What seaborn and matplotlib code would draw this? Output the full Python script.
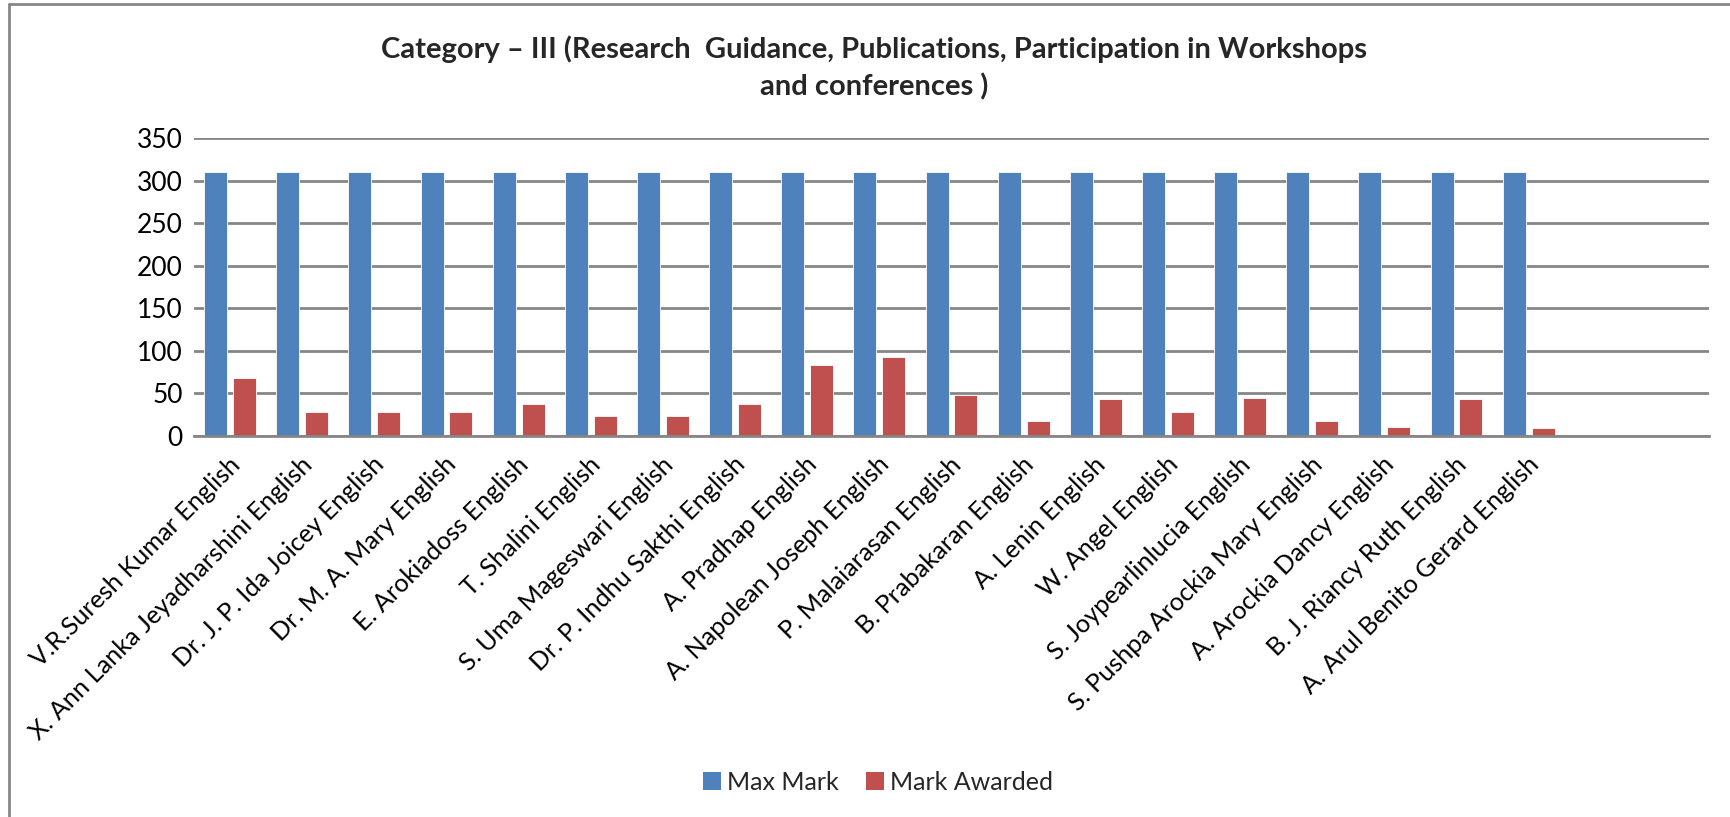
import numpy as np
import pandas as pd
import matplotlib
matplotlib.use("Agg")
import matplotlib.pyplot as plt
import matplotlib.transforms as mtransforms
import seaborn as sns
from matplotlib.lines import Line2D
from matplotlib.patches import Patch

names = ["V.R.Suresh Kumar English", "X. Ann Lanka Jeyadharshini English",
         "Dr. J. P. Ida Joicey English", "Dr. M. A. Mary English",
         "E. Arokiadoss English", "T. Shalini English", "S. Uma Mageswari English",
         "Dr. P. Indhu Sakthi English", "A. Pradhap English",
         "A. Napolean Joseph English", "P. Malaiarasan English",
         "B. Prabakaran English", "A. Lenin English", "W. Angel English",
         "S. Joypearlinlucia English", "S. Pushpa Arockia Mary English",
         "A. Arockia Dancy English", "B. J. Riancy Ruth English",
         "A. Arul Benito Gerard English"]
# two empty category slots at the end of the axis
blank_slots = [" ", "  "]
max_mark = [310] * 19
mark_awarded = [68, 28, 28, 28, 38, 23, 23, 38, 83, 93, 48, 18, 43, 28, 45, 18, 10, 43, 9]
series = ["Max Mark", "Mark Awarded"]
colors = ["#4F81BD", "#C0504D"]

df = pd.DataFrame({
    "name": names * 2,
    "value": max_mark + mark_awarded,
    "series": [series[0]] * 19 + [series[1]] * 19,
})

sns.set_style("white")
plt.rcParams["font.family"] = ["Lato", "DejaVu Sans"]

fig = plt.figure(figsize=(17.3, 8.17), dpi=100)
ax = fig.add_axes([194 / 1730, 1 - 436 / 817, (1709 - 194) / 1730, (436 - 138) / 817])

sns.barplot(data=df, x="name", y="value", hue="series", order=names + blank_slots,
            hue_order=series, palette=colors, width=0.8, gap=0.2,
            edgecolor="white", linewidth=0.6, saturation=1, ax=ax, legend=False)

ax.set_ylim(0, 350)
ax.set_yticks(np.arange(0, 351, 50))
ax.set_xlim(-0.5, len(names) + len(blank_slots) - 0.5)
ax.yaxis.grid(True, color="#868686", linewidth=2)
ax.set_axisbelow(True)
for s in ["top", "right", "left"]:
    ax.spines[s].set_visible(False)
ax.spines["bottom"].set_color("#868686")
ax.spines["bottom"].set_linewidth(2)
ax.set_xlabel("")
ax.set_ylabel("")
ax.tick_params(axis="both", length=0, colors="black")
ax.tick_params(axis="y", labelsize=19, pad=8)
ax.tick_params(axis="x", labelsize=18.2, pad=12)
shift = mtransforms.ScaledTranslation(-2 / 100, 0, fig.dpi_scale_trans)
for lbl in ax.get_xticklabels():
    lbl.set_rotation(45)
    lbl.set_ha("right")
    lbl.set_rotation_mode("anchor")
    lbl.set_transform(lbl.get_transform() + shift)

fig.suptitle("Category \u2013 III (Research  Guidance, Publications, Participation in Workshops\nand conferences )",
             x=874 / 1730, y=1 - 35 / 817, fontsize=21, fontweight="bold", linespacing=1.47)

handles = [Patch(facecolor=c, edgecolor="none") for c in colors]
fig.legend(handles, series, loc="center", bbox_to_anchor=(878 / 1730, 1 - 782 / 817), ncol=2,
           frameon=False, fontsize=18, handlelength=0.7, handleheight=0.7,
           handletextpad=0.25, columnspacing=1.1)

# chart frame (top and left edges visible in the reference)
fig.add_artist(Line2D([9 / 1730, 9 / 1730], [0, 1 - 4 / 817], transform=fig.transFigure,
                      color="#868686", linewidth=2))
fig.add_artist(Line2D([9 / 1730, 1], [1 - 4 / 817, 1 - 4 / 817], transform=fig.transFigure,
                      color="#868686", linewidth=2))

fig.savefig("out.png", dpi=100)
